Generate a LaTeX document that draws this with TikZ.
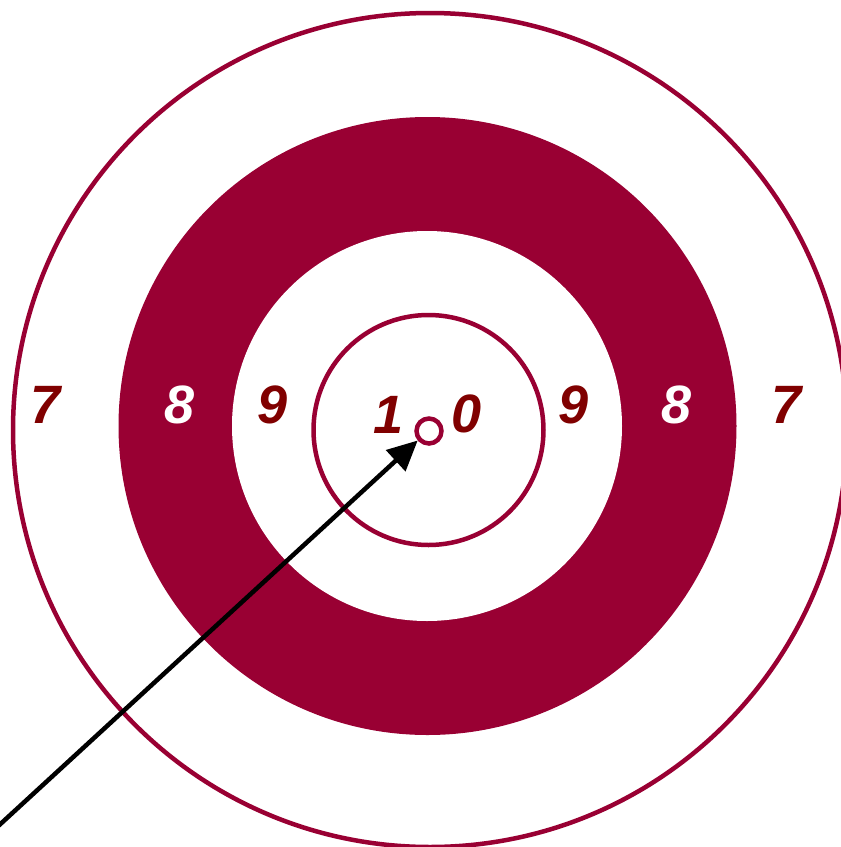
\documentclass[tikz,border=0pt]{standalone}
\usepackage{fontspec}
\setmainfont{Liberation Sans}
\usetikzlibrary{arrows.meta}
\definecolor{ringred}{RGB}{153,0,51}
\definecolor{numred}{RGB}{128,0,0}
\tikzset{
  ringline/.style={draw=ringred, line width=4.5pt},
  num/.style={inner sep=0pt, anchor=base, text=numred, font=\fontsize{54}{60}\selectfont\bfseries\itshape},
  numw/.style={num, text=white},
}
\begin{document}
\begin{tikzpicture}[x=1pt,y=-1pt]
\useasboundingbox (0,0) rectangle (841,847);
\fill[white] (0,0) rectangle (841,847);
% outer circle
\draw[ringline] (430,430) circle (417);
% red ring
\fill[ringred] (427.5,426) circle (309);
\fill[white] (427,426) circle (195);
% inner circle
\draw[ringline] (428.5,430) circle (115);
% centre
\node (c) [circle, draw=ringred, line width=4.5pt, fill=white, minimum size=25pt, inner sep=0pt] at (429,431) {};
% labels
\node (l7) [num] at (46,423) {7};
\node (l8) [numw] at (180,423) {8};
\node (l9) [num] at (273,423) {9};
\node (t1) [num] at (389,433) {1};
\node (t0) [num] at (467,432) {0};
\node (r9) [num] at (574,423) {9};
\node (r8) [numw] at (677,423) {8};
\node (r7) [num] at (787,423) {7};
% arrow
\coordinate (a0) at (-5,829);
\draw[line width=4.5pt, -{Triangle[length=30pt,width=28pt]}] (a0) -- (c.220);
\end{tikzpicture}
\end{document}
